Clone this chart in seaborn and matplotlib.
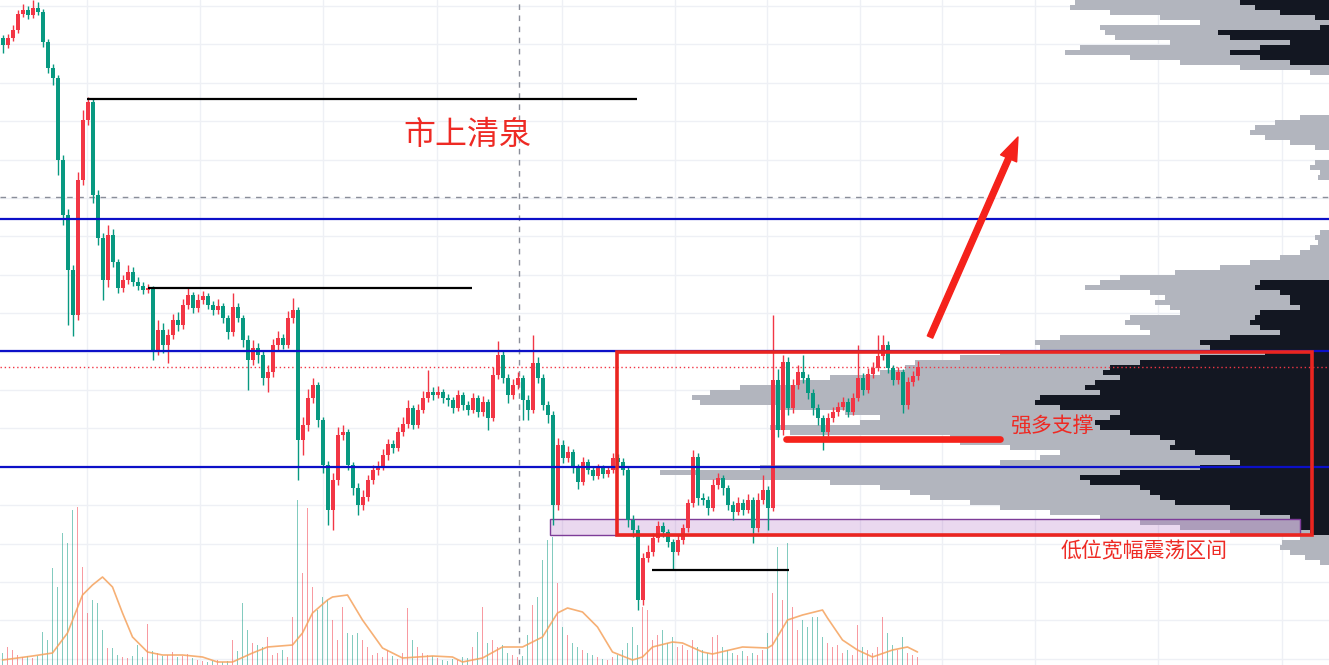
import numpy as np
import matplotlib
matplotlib.use("Agg")
import matplotlib.pyplot as plt
from matplotlib.patches import Rectangle
import seaborn as sns

# K线数据 (红涨绿跌)
open_first = 627
closes = [620, 627, 635, 651, 655, 650, 657, 653, 623, 597,
          587, 505, 450, 395, 350, 485, 545, 563, 470, 427,
          385, 430, 403, 377, 385, 393, 383, 379, 375, 377,
          315, 335, 320, 330, 345, 340, 360, 370, 357, 365,
          369, 360, 355, 359, 347, 333, 358, 347, 325, 305,
          317, 310, 287, 293, 320, 327, 320, 347, 355, 225,
          240, 267, 280, 245, 200, 155, 185, 230, 233, 200,
          177, 160, 168, 185, 195, 199, 210, 221, 217, 233,
          241, 257, 240, 255, 267, 273, 270, 273, 267, 265,
          257, 270, 260, 255, 267, 253, 263, 247, 290, 310,
          287, 270, 280, 287, 265, 255, 302, 287, 260, 250,
          160, 220, 207, 213, 197, 183, 203, 195, 189, 197,
          191, 195, 207, 203, 195, 145, 135, 65, 107, 113,
          127, 139, 133, 123, 113, 125, 137, 162, 208, 167,
          165, 157, 180, 187, 177, 160, 153, 162, 155, 165,
          137, 165, 175, 157, 285, 235, 303, 257, 280, 293,
          287, 272, 257, 247, 233, 247, 253, 258, 263, 253,
          267, 287, 275, 291, 297, 309, 320, 297, 285, 293,
          260, 283, 289, 298]
highs = [630, 631, 640, 655, 661, 659, 665, 663, 656, 626,
         601, 590, 510, 456, 400, 493, 555, 568, 566, 475,
         432, 440, 436, 406, 390, 400, 398, 388, 383, 381,
         379, 345, 342, 336, 351, 353, 366, 378, 373, 371,
         374, 372, 364, 366, 362, 350, 372, 362, 350, 330,
         325, 322, 314, 300, 326, 334, 331, 354, 367, 358,
         248, 276, 287, 283, 248, 204, 192, 238, 240, 236,
         203, 182, 175, 190, 200, 204, 216, 226, 225, 238,
         248, 265, 260, 261, 274, 295, 278, 279, 276, 271,
         268, 275, 273, 264, 272, 270, 269, 266, 298, 324,
         314, 291, 286, 293, 290, 270, 330, 308, 291, 264,
         254, 227, 225, 219, 216, 201, 208, 206, 198, 201,
         200, 199, 212, 211, 207, 198, 150, 140, 112, 120,
         132, 144, 143, 136, 126, 130, 141, 166, 215, 212,
         172, 169, 186, 192, 190, 180, 164, 168, 166, 171,
         168, 172, 190, 179, 350, 296, 310, 308, 286, 300,
         310, 291, 276, 261, 250, 252, 258, 263, 268, 267,
         272, 320, 292, 297, 303, 330, 330, 324, 300, 298,
         296, 288, 294, 304]
lows = [612, 617, 624, 632, 648, 646, 647, 650, 618, 592,
        580, 490, 440, 340, 329, 345, 480, 540, 462, 420,
        365, 378, 398, 372, 373, 381, 379, 375, 371, 372,
        305, 310, 312, 302, 326, 334, 336, 356, 352, 353,
        361, 356, 350, 351, 342, 326, 329, 343, 318, 275,
        300, 302, 280, 273, 288, 315, 316, 317, 342, 185,
        210, 234, 262, 238, 192, 140, 135, 180, 225, 195,
        170, 150, 155, 164, 181, 190, 195, 205, 212, 214,
        229, 237, 236, 237, 252, 263, 265, 267, 262, 259,
        252, 254, 255, 250, 252, 248, 249, 235, 244, 286,
        282, 262, 266, 276, 245, 245, 252, 282, 255, 242,
        140, 155, 202, 203, 192, 176, 180, 191, 185, 186,
        187, 188, 192, 199, 190, 138, 128, 55, 60, 103,
        109, 123, 128, 118, 95, 110, 121, 133, 158, 160,
        160, 150, 154, 176, 170, 155, 145, 150, 150, 152,
        122, 133, 161, 135, 154, 228, 230, 250, 252, 276,
        282, 266, 250, 240, 215, 229, 243, 249, 255, 248,
        250, 264, 270, 272, 287, 294, 305, 292, 280, 281,
        252, 256, 279, 285]
volumes = [12, 18, 15, 10, 8, 9, 7, 9, 33, 25,
           97, 78, 132, 122, 155, 158, 98, 52, 65, 62,
           35, 17, 17, 10, 8, 7, 9, 20, 8, 41,
           14, 12, 9, 10, 13, 8, 9, 11, 7, 5,
           4, 3, 4, 5, 3, 4, 25, 14, 62, 35,
           22, 20, 18, 28, 10, 12, 15, 8, 48, 165,
           92, 157, 78, 55, 68, 65, 45, 25, 58, 32,
           30, 32, 25, 18, 10, 12, 8, 15, 9, 6,
           12, 57, 25, 18, 12, 10, 9, 7, 5, 4,
           6, 5, 8, 7, 18, 33, 58, 22, 25, 18,
           20, 12, 10, 8, 9, 30, 60, 68, 105, 125,
           128, 82, 38, 30, 22, 18, 15, 12, 10, 8,
           6, 5, 8, 10, 15, 22, 38, 20, 58, 55,
           25, 30, 35, 22, 28, 18, 20, 15, 25, 18,
           15, 12, 28, 30, 18, 15, 12, 10, 14, 9,
           12, 10, 15, 32, 72, 118, 65, 122, 58, 35,
           45, 38, 48, 48, 28, 22, 18, 20, 12, 15,
           10, 40, 18, 15, 12, 18, 48, 32, 20, 15,
           28, 12, 10, 8]

# 成交量均线 (读图取点)
ma_idx = [0, 6, 10, 13, 16, 18, 20, 22, 24, 26, 29, 32, 36, 40, 43, 46, 50, 53, 58, 60,
          62, 65, 66, 69, 72, 76, 80, 83, 86, 90, 92, 96, 100, 104, 108, 111, 113, 116, 119, 122,
          126, 128, 130, 134, 136, 140, 142, 148, 153, 154, 157, 160, 164, 165, 168, 171, 174, 178, 181, 183]
ma_val = [5, 9, 12, 32, 70, 80, 88, 78, 52, 28, 13, 10, 10, 8, 3, 3, 12, 18, 20, 32,
          52, 65, 68, 70, 45, 17, 7, 8, 9, 8, 3, 7, 18, 18, 28, 52, 57, 53, 38, 13,
          5, 8, 18, 23, 22, 13, 11, 18, 17, 20, 45, 50, 55, 47, 25, 15, 8, 15, 18, 13]

# 成交量分布 (从上到下, 每档5个价格单位)
vp_total = [254, 259, 219, 169, 129, 229, 224, 214, 159, 249, 264, 199, 149, 89, 19,
            0, 0, 0, 0, 0, 0, 0, 0,
            29, 54, 74, 79, 64, 39, 14,
            0, 0,
            14, 19, 9, 11,
            0, 0, 0, 0, 0, 0, 0, 0, 0, 0,
            9, 14, 11, 19, 29, 49, 79, 109, 154, 209,
            229, 244, 179, 164, 174, 159, 149, 199, 204, 189,
            179, 269, 294, 289, 329, 369, 414, 424, 449, 499,
            529, 589, 619, 637, 629, 549, 484, 449, 469, 559,
            539, 379, 369, 319, 269, 289, 329, 569, 669, 629,
            499, 449, 419, 399, 359, 329, 279, 229, 189, 149,
            99, 29, 47, 49, 39, 24, 9]
vp_value = [89, 74, 49, 14, 0, 9, 111, 99, 39, 69, 99, 69, 39, 0, 0,
            0, 0, 0, 0, 0, 0, 0, 0,
            0, 0, 0, 0, 0, 0, 0,
            0, 0,
            0, 0, 0, 0,
            0, 0, 0, 0, 0, 0, 0, 0, 0, 0,
            0, 0, 0, 0, 0, 0, 0, 0, 0, 0,
            69, 74, 49, 39, 39, 29, 69, 74, 79, 69,
            49, 99, 129, 119, 64, 129, 189, 219, 226, 209,
            234, 244, 229, 289, 294, 269, 209, 219, 234, 229,
            199, 169, 154, 159, 134, 99, 89, 129, 209, 249,
            239, 189, 179, 169, 154, 99, 69, 39, 29, 29,
            19, 0, 0, 0, 0, 0, 0]
vp_bins = np.arange(662.5, 100, -5)

# 画线工具
blue_levels = [446, 314, 198]
black_segments = [(16.9, 126.9, 566), (29.1, 93.9, 377), (129.9, 157.3, 95)]
support = (156.7, 199.5, 226)
box = (122.9, 261.9, 130, 313)
band = (109.5, 259.5, 130, 146)
cross_x, cross_y, last_price = 103.3, 468, 298
grid_x = [16.9, 39.5, 64.1, 86.9, 111.9, 134.5, 152.9, 171.5, 187.9, 206.5, 231.1, 255.9]

UP, DOWN = '#f23645', '#089981'
RED = '#ee2a24'

sns.set_theme(style="white")
plt.rcParams['font.family'] = ['Noto Sans CJK SC', 'DejaVu Sans']

fig = plt.figure(figsize=(13.29, 6.65), dpi=100)
rect = [0, 0, 1, 1]
xlim = (-0.5, 265.3)
ylim = (0, 665)

# 网格
ax_grid = fig.add_axes(rect, zorder=0)
ax_grid.set_xlim(xlim)
ax_grid.set_ylim(ylim)
ax_grid.set_xticks(grid_x)
ax_grid.set_yticks(np.arange(659, 0, -38.4))
ax_grid.grid(True, color='#eef0f5', lw=1)
ax_grid.tick_params(length=0, labelbottom=False, labelleft=False)
for s in ax_grid.spines.values():
    s.set_visible(False)

# 成交量
ax_vol = fig.add_axes(rect, zorder=1, sharex=ax_grid)
ax_vol.patch.set_alpha(0)
ax_vol.set_ylim(0, 665)
x = np.arange(len(closes))
opens = [open_first] + closes[:-1]
cols = [UP if c >= o else DOWN for o, c in zip(opens, closes)]
ax_vol.bar(x, volumes, width=0.3, color=cols, alpha=0.5, lw=0)
sns.lineplot(x=ma_idx, y=ma_val, ax=ax_vol, color='#f5a25d', lw=1.2, alpha=0.85)
ax_vol.axis('off')

# 成交量分布
ax_vp = fig.add_axes(rect, zorder=2, sharey=ax_grid)
ax_vp.patch.set_alpha(0)
ax_vp.set_xlim(1329, 0)
ax_vp.barh(vp_bins, vp_total, height=5, left=0, color='#b2b5be', lw=0)
ax_vp.barh(vp_bins, vp_value, height=5, left=0, color='#131722', lw=0)
ax_vp.axis('off')

# 主图
ax = fig.add_axes(rect, zorder=3, sharex=ax_grid, sharey=ax_grid)
ax.patch.set_alpha(0)

ax.axvline(cross_x, color='#8a8e99', lw=1, ls=(0, (4, 4)), zorder=1)
ax.axhline(cross_y, color='#8a8e99', lw=1, ls=(0, (4, 4)), zorder=1)
ax.axhline(last_price, color=UP, lw=1, ls=(0, (1, 2)), zorder=1)

ax.add_patch(Rectangle((band[0], band[2]), band[1] - band[0], band[3] - band[2],
                       facecolor=(0.6, 0.25, 0.7, 0.2), edgecolor='#7d3c98', lw=1, zorder=2))

body_low = np.minimum(opens, closes)
body_h = np.maximum(np.abs(np.array(closes) - np.array(opens)), 0.8)
ax.vlines(x, lows, highs, color=cols, lw=1, zorder=3)
ax.bar(x, body_h, bottom=body_low, width=0.8, color=cols, lw=0, zorder=3)

for lv in blue_levels:
    ax.axhline(lv, color='#0c10c8', lw=1.6, zorder=4)
for x0, x1, lv in black_segments:
    ax.hlines(lv, x0, x1, color='black', lw=1.6, zorder=4)

ax.add_patch(Rectangle((box[0], box[2]), box[1] - box[0], box[3] - box[2],
                       fill=False, edgecolor='#ea2520', lw=2.6, zorder=5))
ax.plot([support[0], support[1]], [support[2], support[2]], color='#f5221b', lw=4.8,
        solid_capstyle='round', zorder=5)
ax.annotate('', xy=(203.1, 528), xytext=(185.5, 328),
            arrowprops=dict(arrowstyle='simple,head_length=1.2,head_width=0.9,tail_width=0.3',
                            color='#f5221b', mutation_scale=14, shrinkA=0, shrinkB=0), zorder=5)

ax.text(93, 530, '市上清泉', color=RED, fontsize=23, ha='center', va='center', zorder=6)
ax.text(209.9, 238, '强多支撑', color=RED, fontsize=15, ha='center', va='center', zorder=6)
ax.text(228.4, 114, '低位宽幅震荡区间', color=RED, fontsize=15, ha='center', va='center', zorder=6)

ax.set_xlim(xlim)
ax.set_ylim(ylim)
ax.axis('off')

fig.savefig('out.png', dpi=100)
